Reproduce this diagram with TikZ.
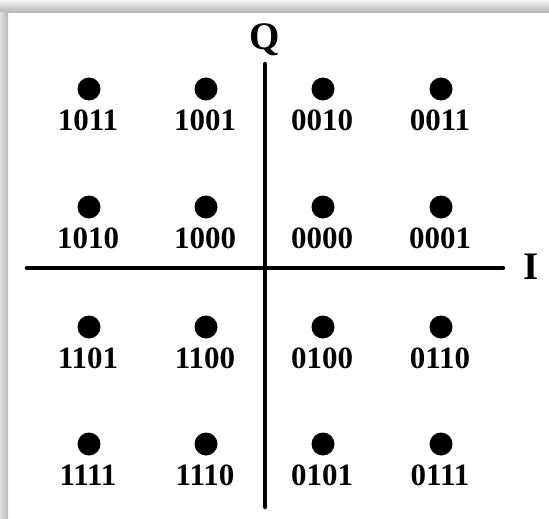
\documentclass[tikz,border=0pt]{standalone}
\usepackage{fontspec}
\setmainfont{Liberation Serif}
\begin{document}
\begin{tikzpicture}[x=1pt,y=-1pt,
  dot/.style={circle,fill=black,inner sep=0pt,minimum size=23pt},
  lbl/.style={font=\bfseries\fontsize{31}{31}\selectfont,inner sep=0pt},
  axlbl/.style={font=\bfseries\fontsize{39}{39}\selectfont,inner sep=0pt},
  axis/.style={line width=4.5pt,line cap=round}]
\useasboundingbox (0,0) rectangle (549,519);
\fill[white] (0,0) rectangle (549,519);
\shade[top color=gray!10,bottom color=gray!60] (0,0) rectangle (549,13);
\shade[left color=gray!25,right color=gray!55] (0,13) rectangle (8,519);
% axes
\coordinate (vtop) at (265,64);
\coordinate (vbot) at (265,507);
\coordinate (hl) at (27,268);
\coordinate (hr) at (503,268);
\draw[axis] (vtop) -- (vbot);
\draw[axis] (hl) -- (hr);
\node[axlbl] (Q) at (265,40) {Q};
\node[axlbl] (I) at (531,267) {I};
% constellation points
\foreach \lab/\cx/\cy [count=\i] in {
  1011/89/89, 1001/206/89, 0010/323/89, 0011/441/89,
  1010/89/207, 1000/206/207, 0000/323/207, 0001/441/207,
  1101/89/327, 1100/206/327, 0100/323/327, 0110/441/327,
  1111/89/444, 1110/206/444, 0101/323/444, 0111/441/444}{
  \node[dot] (d\i) at (\cx,\cy) {};
  \node[lbl] (t\i) at (\cx-1,\cy+31) {\lab};
}
\end{tikzpicture}
\end{document}
